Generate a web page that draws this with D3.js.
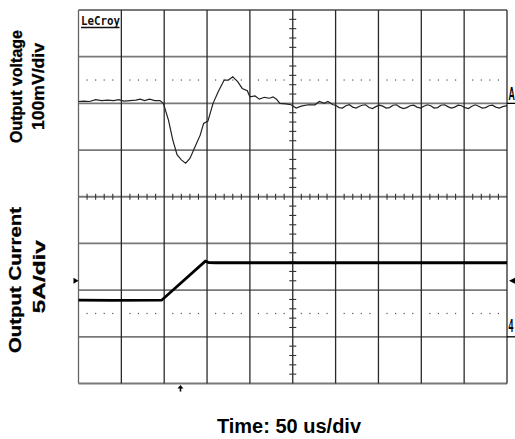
<!DOCTYPE html>
<html><head><meta charset="utf-8">
<script src="https://cdn.jsdelivr.net/npm/d3@7"></script>
<style>html,body{margin:0;padding:0;background:#fff;}svg{display:block;}</style>
</head><body>
<svg id="chart" width="515" height="439"></svg>
<script>
// ---- data ----
// time in microseconds (50 us/div, 10 divisions)
const voltTime = [0,6,13,20,27,34,41,47,53,60,67,72,77,83,89,95,99,105,110,115,120,125,130,136,142,146,151,157,163,170,175,180,186,191,197,200,206,211,217,223,227,231,235,242,248,254,260,268,276,281,287,291,297,
  300,304,308,312,316,320,324,328,331,335,339,343,347,351,355,359,363,367,371,375,379,383,387,391,395,399,403,407,411,415,419,423,427,431,435,439,443,447,451,455,459,463,467,471,475,479,483,487,491,495,500];
// output voltage deviation in mV (100 mV/div)
const voltValue = [4,5,4,8,6,7,6,8,5,6,7,9,6,9,6,6,0,-36,-78,-110,-121,-128,-118,-93,-68,-43,-38,0,25,50,50,57,46,32,27,14,16,9,13,11,14,9,0,-1,-3,-10,-6,-3,-3,4,0,4,-3,
  -4,-9,-10,-5,-3,-8,-10,-6,-4,-3,-9,-11,-7,-4,-6,-10,-9,-4,-3,-8,-11,-9,-5,-4,-8,-10,-6,-3,-5,-10,-9,-4,-3,-7,-10,-8,-4,-5,-9,-11,-6,-3,-6,-10,-9,-5,-4,-8,-10,-7,-5];
const currTime = [0,40,97,148,152,160,300,500];
// output current in A (5 A/div)
const currValue = [3.92,3.9,3.92,8.1,7.95,7.93,7.93,7.93];
const timeLabel = "Time: 50 us/div";
const voltLabels = ["Output voltage","100mV/div"];
const currLabels = ["Output Current","5A/div"];
const brand = "LeCroy";
const trigTime = 119;   // trigger marker position (us)

const svg = d3.select("#chart");
const L = 78.5, R = 507, T = 10, B = 383.5;
const xGrid = d3.scaleLinear().domain([0,10]).range([L,R]);
const yGrid = d3.scaleLinear().domain([0,8]).range([T,B]);
const x = d3.scaleLinear().domain([0,500]).range([L,R]);
const yV = d3.scaleLinear().domain([-200,200]).range([yGrid(4),T]);
const yI = d3.scaleLinear().domain([-5,15]).range([B,yGrid(4)]);

const g = svg.append("g");
// horizontal grid lines
g.selectAll("line.h").data(d3.range(0,9)).join("line")
  .attr("x1",L).attr("x2",R).attr("y1",d=>yGrid(d)).attr("y2",d=>yGrid(d))
  .attr("stroke","#787878").attr("stroke-width",1.8);
// vertical grid lines
g.selectAll("line.v").data(d3.range(0,11)).join("line")
  .attr("y1",T).attr("y2",B).attr("x1",d=>xGrid(d)).attr("x2",d=>xGrid(d))
  .attr("stroke",d=>(d===0)?"#666":"#2a2a2a").attr("stroke-width",1.3);

// minor positions
const minorX = d3.range(0,50.001,1).filter(i=>i%5!==0).map(i=>i/5);
const minorY = d3.range(0,40.001,1).filter(i=>i%5!==0).map(i=>i/5);
// dotted rows
[1.5,6.5].forEach(r=>{
  g.selectAll(null).data(minorX).join("rect")
    .attr("x",d=>xGrid(d)-0.6).attr("y",yGrid(r)-0.6).attr("width",1.2).attr("height",1.2)
    .attr("fill","#555");
});
// ticks on centre lines
g.selectAll(null).data(minorX).join("line")
  .attr("x1",d=>xGrid(d)).attr("x2",d=>xGrid(d)).attr("y1",yGrid(4)-3).attr("y2",yGrid(4)+3)
  .attr("stroke","#333").attr("stroke-width",1.1);
g.selectAll(null).data(minorY).join("line")
  .attr("y1",d=>yGrid(d)).attr("y2",d=>yGrid(d)).attr("x1",xGrid(5)-3.5).attr("x2",xGrid(5)+3.5)
  .attr("stroke","#333").attr("stroke-width",1.1);

// traces
const vData = voltTime.map((t,i)=>[t,voltValue[i]]);
const iData = currTime.map((t,i)=>[t,currValue[i]]);
svg.append("path").datum(vData)
  .attr("d",d3.line().x(d=>x(d[0])).y(d=>yV(d[1])))
  .attr("fill","none").attr("stroke","#222").attr("stroke-width",1.2);
svg.append("path").datum(iData)
  .attr("d",d3.line().x(d=>x(d[0])).y(d=>yI(d[1])))
  .attr("fill","none").attr("stroke","#000").attr("stroke-width",2.8);

// markers
svg.append("text").text(brand).attr("x",L+2.5).attr("y",T+15)
  .attr("font-family","DejaVu Sans Mono").attr("font-weight","bold").attr("font-size",12.5)
  .attr("textLength",39).attr("lengthAdjust","spacingAndGlyphs").attr("fill","#111");
svg.append("line").attr("x1",L+2.5).attr("x2",L+41).attr("y1",T+17.5).attr("y2",T+17.5)
  .attr("stroke","#111").attr("stroke-width",1.3);
svg.append("text").text("A").attr("transform",`translate(${R+1.5},${yV(7)}) scale(0.5,1)`)
  .attr("font-family","Liberation Sans").attr("font-weight","bold").attr("font-size",17.5).attr("fill","#000");
svg.append("line").attr("x1",R).attr("x2",515).attr("y1",yV(0)).attr("y2",yV(0)).attr("stroke","#000").attr("stroke-width",1.3);
svg.append("text").text("4").attr("transform",`translate(${R+1.5},${yI(0.55)}) scale(0.5,1)`)
  .attr("font-family","Liberation Sans").attr("font-weight","bold").attr("font-size",17.5).attr("fill","#000");
svg.append("line").attr("x1",R).attr("x2",515).attr("y1",yI(0)).attr("y2",yI(0)).attr("stroke","#000").attr("stroke-width",1.3);
const trigLevel = 6;
svg.append("path").attr("d",`M${L-5},${yI(trigLevel)-3}L${L},${yI(trigLevel)}L${L-5},${yI(trigLevel)+3}Z`).attr("fill","#000");
svg.append("path").attr("d",`M${R+8},${yI(trigLevel)-3}L${R+2},${yI(trigLevel)}L${R+8},${yI(trigLevel)+3}Z`).attr("fill","#000");
const tx = x(trigTime);
svg.append("path").attr("d",`M${tx},${B+1.5}L${tx+3},${B+5}L${tx-3},${B+5}Z`).attr("fill","#000");
svg.append("line").attr("x1",tx).attr("x2",tx).attr("y1",B+4).attr("y2",B+8).attr("stroke","#000").attr("stroke-width",1.6);

// axis titles
const font = "Liberation Sans, Arial, sans-serif";
function vlabel(txt,cx,cy,size,len){
  svg.append("text").text(txt).attr("transform",`translate(${cx},${cy}) rotate(-90)`)
    .attr("text-anchor","middle").attr("font-family",font).attr("font-weight","bold")
    .attr("font-size",size).attr("textLength",len).attr("lengthAdjust","spacingAndGlyphs")
    .attr("fill","#000").attr("stroke","#000").attr("stroke-width",0.3);
}
vlabel(voltLabels[0],22,86.5,17,113);
vlabel(voltLabels[1],44,86.5,17,87);
vlabel(currLabels[0],21,280,16,146);
vlabel(currLabels[1],44.5,276.7,17,73);
svg.append("text").text(timeLabel).attr("x",289).attr("y",433).attr("text-anchor","middle")
  .attr("font-family",font).attr("font-weight","bold").attr("font-size",20).attr("fill","#000");
</script>
</body></html>
